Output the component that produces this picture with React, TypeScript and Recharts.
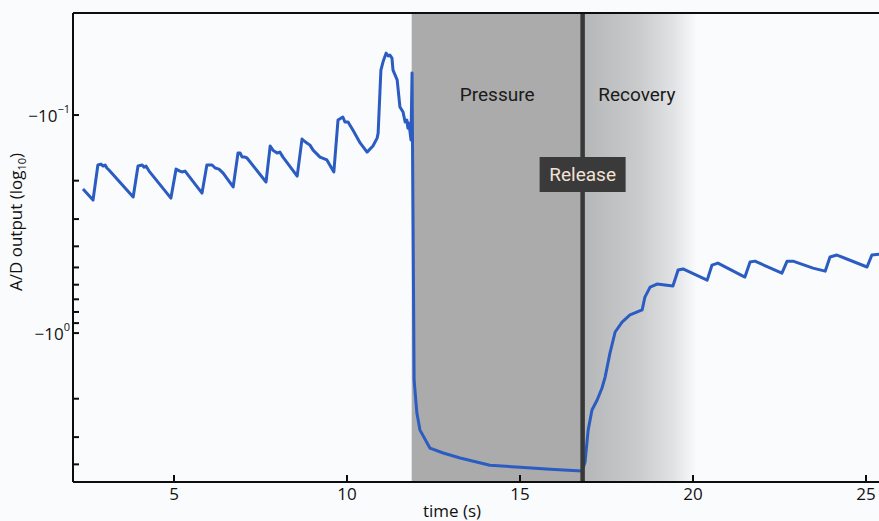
import React from 'react';
import { LineChart, Line, XAxis, YAxis, ReferenceArea, ReferenceLine } from 'recharts';

// time in seconds
const timeS = [
  2.37, 2.66, 2.8, 2.89, 2.95, 3.01, 3.06, 3.12, 3.82,
  3.96, 4.08, 4.13, 4.19, 4.28, 4.91,
  5.06, 5.17, 5.23, 5.32, 5.81,
  5.95, 6.1, 6.19, 6.3, 6.42, 6.71,
  6.85, 6.91, 6.97, 7.05, 7.11, 7.66,
  7.78, 7.86, 7.98, 8.06, 8.15, 8.56,
  8.7, 8.73, 8.84, 8.93, 9.02, 9.22, 9.42, 9.62,
  9.74, 9.88, 9.94, 10.03, 10.17, 10.38, 10.58, 10.75, 10.87, 10.9,
  10.98, 11.04, 11.13, 11.19, 11.24, 11.3, 11.33, 11.45, 11.53, 11.62,
  11.68, 11.73, 11.76, 11.79, 11.85, 11.88,
  11.94, 12.02, 12.11, 12.4, 12.78, 13.27, 14.13, 15.0, 15.87, 16.79,
  16.88, 16.97, 17.08, 17.23, 17.37, 17.46, 17.6, 17.75, 17.95, 18.18, 18.53,
  18.61, 18.76, 18.96, 19.42, 19.57, 19.71, 20.41, 20.55, 20.72, 21.5,
  21.65, 21.79, 22.57, 22.72, 22.89, 23.47, 23.82, 23.96, 24.16, 25.03, 25.17, 25.38,
];

// log10 of |A/D output| (output is negative)
const adLog10 = [
  -0.661, -0.61, -0.771, -0.775, -0.766, -0.771, -0.757, -0.748, -0.624,
  -0.766, -0.771, -0.761, -0.766, -0.743, -0.619,
  -0.752, -0.743, -0.739, -0.743, -0.642,
  -0.771, -0.771, -0.757, -0.752, -0.734, -0.67,
  -0.826, -0.826, -0.807, -0.807, -0.803, -0.693,
  -0.858, -0.839, -0.826, -0.83, -0.807, -0.72,
  -0.89, -0.885, -0.872, -0.862, -0.839, -0.807, -0.794, -0.739,
  -0.977, -0.991, -0.968, -0.968, -0.931, -0.872, -0.83, -0.858, -0.894, -0.917,
  -1.206, -1.243, -1.284, -1.271, -1.275, -1.261, -1.206, -1.161, -1.037, -1.014,
  -0.968, -0.977, -0.94, -0.963, -0.885, -1.193,
  0.216, 0.367, 0.445, 0.528, 0.55, 0.573, 0.606, 0.615, 0.624, 0.633,
  0.592, 0.445, 0.353, 0.307, 0.252, 0.202, 0.092, -0.005, -0.05, -0.083, -0.106,
  -0.165, -0.211, -0.225, -0.216, -0.289, -0.294, -0.243, -0.312, -0.321, -0.257,
  -0.326, -0.33, -0.275, -0.33, -0.33, -0.298, -0.284, -0.349, -0.358, -0.303, -0.358, -0.362,
];

const xTicks = [5, 10, 15, 20, 25];
const yMajorExp = [-1, 0];
const yMinorUpper = [2, 3, 4, 5, 6, 7, 8, 9];
const yMinorLower = [2, 3, 4];

const pressureStart = 11.87;
const releaseTime = 16.81;
const recoveryFadeEnd = 20.12;

const data = timeS.map((t, i) => ({ t, v: adLog10[i] }));
const yTicks = [
  ...yMajorExp,
  ...yMinorUpper.map((k) => Math.log10(k) - 1),
  ...yMinorLower.map((k) => Math.log10(k)),
];

const FONT = '"Open Sans", sans-serif';
const AXIS = '#0d0d0d';
const TICK_LINE = { stroke: AXIS, strokeWidth: 2 };

// tick y is the axis line position (tickMargin cancels the inward tick length)
const XTick = ({ x, y, payload }: any) => (
  <text x={x} y={y + 18} textAnchor="middle" fontSize={17} fontFamily={FONT} fill="#111">
    {payload.value}
  </text>
);

const YTick = ({ x, y, payload }: any) => {
  if (!yMajorExp.includes(payload.value)) return <g />;
  return (
    <text x={x - 3} y={y + 7} textAnchor="end" fontSize={17} fontFamily={FONT} fill="#111">
      −10
      <tspan dy={-9} fontSize={11}>
        {payload.value < 0 ? '−' + Math.abs(payload.value) : payload.value}
      </tspan>
    </text>
  );
};

const YTitle = () => (
  <text
    x={22}
    y={222}
    transform="rotate(-90, 22, 222)"
    textAnchor="middle"
    fontSize={17}
    fontFamily={FONT}
    fill="#111"
  >
    A/D output (log
    <tspan dy={4} fontSize={11}>10</tspan>
    <tspan dy={-4}>)</tspan>
  </text>
);

const XTitle = () => (
  <text x={452} y={517} textAnchor="middle" fontSize={17} fontFamily={FONT} fill="#111">
    time (s)
  </text>
);

const areaText = (txt: string, shift: number) => (props: any) => {
  const vb = props.viewBox;
  return (
    <text
      x={vb.x + vb.width / 2 + shift}
      y={101}
      textAnchor="middle"
      fontSize={19}
      fontFamily="Roboto, sans-serif"
      fill="#1a1a1a"
    >
      {txt}
    </text>
  );
};

const ReleaseBox = (props: any) => {
  const x = props.viewBox.x;
  return (
    <g>
      <rect x={x - 43} y={157} width={86} height={35} fill="#3a3a3a" />
      <text x={x} y={181} textAnchor="middle" fontSize={19} fontFamily="Roboto, sans-serif" fill="#f3e2d8">
        Release
      </text>
    </g>
  );
};

export default function App() {
  return (
    <div style={{ position: 'absolute', left: 0, top: 0, width: 879, height: 521, background: '#fafbfd' }}>
      <LineChart width={879} height={521} data={data} margin={{ top: 0, right: 0, bottom: 0, left: 0 }}>
        <defs>
          <linearGradient id="recoveryFade" x1="0" y1="0" x2="1" y2="0">
            <stop offset="0%" stopColor="#b4b6b8" />
            <stop offset="50%" stopColor="#cacbcc" />
            <stop offset="80%" stopColor="#e2e3e4" />
            <stop offset="100%" stopColor="#fafbfd" />
          </linearGradient>
        </defs>
        <XAxis
          dataKey="t"
          type="number"
          domain={[2.081, 25.376]}
          ticks={xTicks}
          interval={0}
          allowDataOverflow
          height={39}
          tickSize={-7}
          tickMargin={7}
          tickLine={TICK_LINE}
          axisLine={{ stroke: AXIS, strokeWidth: 2 }}
          tick={(p: any) => <XTick {...p} />}
          label={<XTitle />}
        />
        <XAxis
          xAxisId="top"
          orientation="top"
          dataKey="t"
          type="number"
          domain={[2.081, 25.376]}
          ticks={xTicks}
          interval={0}
          allowDataOverflow
          height={13}
          tickSize={-6}
          tickMargin={0}
          tickLine={TICK_LINE}
          axisLine={{ stroke: AXIS, strokeWidth: 2 }}
          tick={false}
        />
        <YAxis
          type="number"
          domain={[-1.468, 0.683]}
          reversed
          ticks={yTicks}
          interval={0}
          allowDataOverflow
          width={73}
          tickSize={-6}
          tickMargin={6}
          tickLine={TICK_LINE}
          axisLine={{ stroke: AXIS, strokeWidth: 2 }}
          tick={(p: any) => <YTick {...p} />}
          label={<YTitle />}
        />
        <ReferenceArea
          x1={pressureStart}
          x2={releaseTime}
          fill="#ababab"
          fillOpacity={1}
          stroke="none"
          label={areaText('Pressure', 0)}
        />
        <ReferenceArea
          x1={releaseTime}
          x2={recoveryFadeEnd}
          fill="url(#recoveryFade)"
          fillOpacity={1}
          stroke="none"
          label={areaText('Recovery', -3)}
        />
        <Line
          type="linear"
          dataKey="v"
          stroke="#2b5cc2"
          strokeWidth={3}
          strokeLinejoin="round"
          dot={false}
          isAnimationActive={false}
        />
        <ReferenceLine x={releaseTime} stroke="#383838" strokeWidth={4.5} label={ReleaseBox} />
      </LineChart>
    </div>
  );
}
